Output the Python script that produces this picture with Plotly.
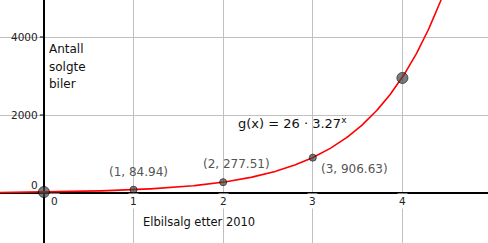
import numpy as np
import plotly.graph_objects as go

# data
point_x = [0, 1, 2, 3, 4]
point_y = [26, 84.94, 277.51, 906.63, 2950]
point_sizes = [11, 7, 7, 7, 11]
labelled_x = [1, 2, 3]
labelled_y = [84.94, 277.51, 906.63]
label_text = ["(1, 84.94)", "(2, 277.51)", "(3, 906.63)"]
a_coef = 26
b_coef = 3.27
x_ticks = [0, 1, 2, 3, 4]
y_ticks = [0, 2000, 4000]
y_title_lines = ["Antall", "solgte", "biler"]
x_range = [-0.49, 4.955]
y_range = [-1282, 4949]

FONT = "DejaVu Sans"
fig = go.Figure()

xs = np.linspace(x_range[0], x_range[1], 400)
fig.add_trace(go.Scatter(x=xs, y=a_coef * b_coef ** xs, mode="lines",
                         line=dict(color="#ff0000", width=1.6), hoverinfo="skip"))
fig.add_trace(go.Scatter(x=point_x, y=point_y, mode="markers",
                         marker=dict(size=point_sizes, color="#444444",
                                     line=dict(color="#000000", width=1))))

ann = []
# y tick labels
for v in y_ticks:
    ann.append(dict(x=0, y=v, text=str(v), showarrow=False, xanchor="right",
                    yanchor="bottom" if v == 0 else "middle", xshift=-4,
                    font=dict(family=FONT, size=10.5, color="#222222")))
# x tick labels
for v in x_ticks:
    ann.append(dict(x=v, y=0, text=str(v), showarrow=False,
                    xanchor="left" if v == 0 else "center", yanchor="top",
                    xshift=5 if v == 0 else 0, yshift=0, bgcolor="white",
                    font=dict(family=FONT, size=10.5, color="#222222")))
# point labels
offsets = [(5, 18), (13, 18), (42, -11)]
for x, y, t, (dx, dy) in zip(labelled_x, labelled_y, label_text, offsets):
    ann.append(dict(x=x, y=y, text=t, showarrow=False, xshift=dx, yshift=dy,
                    font=dict(family=FONT, size=12, color="#555555")))
# y title lines
for i, t in enumerate(y_title_lines):
    ann.append(dict(x=0, y=4949, text=t, showarrow=False, xanchor="left", yanchor="middle",
                    xshift=3, yshift=-49 - 17.5 * i,
                    font=dict(family=FONT, size=12, color="#111111")))

fig.update_layout(annotations=ann)
fig.add_annotation(x=1.08, y=-740, text="Elbilsalg etter 2010", showarrow=False,
                   xanchor="left", font=dict(family=FONT, size=11.5, color="#111111"))
fig.add_annotation(x=2.14, y=1790, text="g(x) = 26 · 3.27<sup>x</sup>", showarrow=False,
                   xanchor="left", font=dict(family=FONT, size=13, color="#111111"))

# small tick marks on axes
for v in x_ticks[1:]:
    fig.add_shape(type="line", x0=v, x1=v, y0=0, y1=-120, line=dict(color="black", width=1))
for v in y_ticks[1:]:
    fig.add_shape(type="line", x0=-0.045, x1=0, y0=v, y1=v, line=dict(color="black", width=1))

axis_common = dict(showline=False, ticks="", showticklabels=False,
                   gridcolor="#c0c0c0", gridwidth=1, zeroline=True,
                   zerolinecolor="black", zerolinewidth=1.5, fixedrange=True)
fig.update_xaxes(range=x_range, dtick=1, tick0=0, **axis_common)
fig.update_yaxes(range=y_range, dtick=2000, tick0=0, **axis_common)
fig.update_layout(width=488, height=243, margin=dict(l=0, r=0, t=0, b=0),
                  plot_bgcolor="white", paper_bgcolor="white", showlegend=False)
fig.write_html("out.html")
